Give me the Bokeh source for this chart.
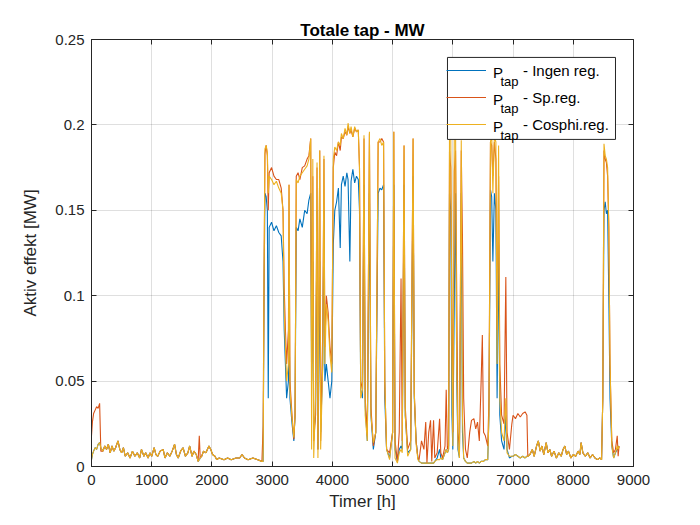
from bokeh.plotting import figure
from bokeh.models import (Range1d, FixedTicker, LinearAxis, Legend, LegendItem,
                          Label, CustomJSTickFormatter, BoxAnnotation)
from bokeh.embed import file_html
from bokeh.resources import INLINE

# ---------------- data ----------------
hours = [
    # quiet period
    0, 15, 35, 60, 85, 110, 135, 155, 190, 220,
    250, 280, 310, 340, 370, 400, 440, 470, 500, 530,
    560, 600, 640, 680, 720, 760, 800, 830, 870, 900,
    940, 970, 1000, 1040, 1070, 1100, 1140, 1190, 1220, 1260,
    1300, 1340, 1380, 1410, 1440, 1480, 1520, 1560, 1600, 1630,
    1670, 1700, 1740, 1770, 1790, 1805, 1830, 1860, 1900, 1950,
    1980, 2010, 2050, 2080, 2120, 2200, 2260, 2320, 2400, 2460,
    2500, 2540, 2600, 2680, 2760, 2830, 2850,
    # active period
    2865, 2880, 2900, 2920, 2935, 2950, 2990, 3030, 3070, 3110,
    3150, 3180, 3200, 3220, 3240, 3270, 3280, 3295, 3330, 3360,
    3380, 3400, 3430, 3460, 3500, 3540, 3580, 3610, 3640, 3655,
    3675, 3690, 3720, 3745, 3760, 3790, 3805, 3840, 3860, 3875,
    3900, 3930, 3960, 3990, 4015, 4040, 4070, 4100, 4130, 4150,
    4180, 4210, 4240, 4260, 4290, 4310, 4340, 4370, 4400, 4430,
    4450, 4470, 4500, 4525, 4545, 4580, 4615, 4640, 4680, 4720,
    4760, 4790, 4820, 4850, 4870, 4900, 4950, 5000, 5020, 5040,
    5080, 5110, 5140, 5160, 5190, 5210, 5250, 5300, 5340, 5360,
    5390, 5420,
    # low period
    5440, 5480, 5520, 5550, 5570, 5600, 5630, 5650, 5680, 5700,
    5740, 5780, 5800, 5830, 5870, 5890, 5910,
    # second active period
    5930, 5945, 5965, 5985, 6000, 6025, 6045, 6065, 6085, 6110,
    6140, 6160, 6180, 6210, 6240, 6280, 6310, 6350, 6380, 6410,
    6440, 6470, 6490, 6510, 6540, 6580,
    6600, 6625, 6645, 6665, 6690, 6715, 6735, 6760, 6780, 6810,
    6850, 6880, 6900, 6940, 6980, 7000, 7040, 7080, 7120, 7160,
    7200, 7230, 7245,
    # quiet period
    7280, 7320, 7350, 7390, 7420, 7450, 7480, 7510, 7550, 7580,
    7610, 7640, 7680, 7720, 7760, 7800, 7830, 7860, 7890, 7920,
    7960, 8000, 8040, 8080, 8110, 8130, 8160, 8200, 8240, 8280,
    8320, 8360, 8400, 8440, 8470,
    # last peak
    8490, 8510, 8530, 8550, 8570, 8590, 8610, 8640, 8670, 8700,
    8730, 8745, 8760,
]

p_ingen = [
    .004, .007, .009, .011, .010, .013, .014, .011, .009, .012,
    .010, .013, .008, .012, .009, .011, .015, .010, .008, .011,
    .006, .008, .005, .009, .006, .008, .005, .010, .006, .008,
    .005, .008, .006, .011, .007, .006, .009, .010, .005, .008,
    .006, .009, .013, .007, .005, .009, .011, .006, .008, .012,
    .006, .009, .007, .003, .004, .005, .006, .009, .008, .012,
    .010, .007, .006, .004, .005, .004, .005, .004, .005, .005,
    .007, .005, .004, .005, .004, .003, .003,
    .100, .160, .158, .150, .040, .140, .143, .138, .141, .137,
    .135, .120, .080, .060, .040, .050, .090, .040, .025, .015,
    .030, .140, .138, .145, .140, .150, .148, .156, .160, .050,
    .120, .020, .030, .150, .010, .120, .020, .060, .150, .050,
    .060, .050, .040, .050, .130, .150, .155, .163, .128, .165,
    .170, .164, .172, .168, .120, .167, .174, .166, .170, .168,
    .150, .045, .040, .165, .035, .015, .160, .030, .010, .020,
    .160, .163, .162, .165, .040, .010, .005, .020, .165, .010,
    .003, .010, .012, .010, .165, .030, .008, .010, .170, .040,
    .015, .005,
    .003, .002, .002, .002, .002, .002, .002, .002, .002, .003,
    .005, .010, .005, .004, .008, .010, .008,
    .010, .160, .150, .030, .010, .100, .160, .050, .010, .005,
    .160, .020, .005, .003, .002, .002, .002, .003, .002, .003,
    .002, .003, .003, .003, .004, .004,
    .030, .162, .158, .120, .160, .150, .040, .130, .030, .015,
    .010, .030, .010, .005, .006, .006, .007, .006, .005, .006,
    .005, .006, .006,
    .007, .010, .006, .012, .015, .009, .012, .007, .014, .008,
    .010, .006, .009, .005, .008, .006, .010, .012, .007, .009,
    .005, .007, .006, .009, .007, .014, .008, .006, .008, .005,
    .007, .005, .004, .005, .004,
    .040, .150, .155, .148, .150, .100, .040, .012, .005, .008,
    .010, .012, .011,
]

p_sp = [
    .018, .026, .031, .033, .035, .034, .037, .009, .009, .012,
    .010, .013, .008, .012, .009, .011, .015, .010, .008, .011,
    .006, .008, .005, .009, .006, .008, .005, .010, .006, .008,
    .005, .008, .006, .011, .007, .006, .009, .010, .005, .008,
    .006, .009, .013, .007, .005, .009, .011, .006, .008, .012,
    .006, .009, .007, .003, .018, .005, .006, .009, .008, .012,
    .010, .007, .006, .004, .005, .004, .005, .004, .005, .005,
    .007, .005, .004, .005, .004, .003, .024,
    .110, .183, .188, .182, .150, .172, .175, .170, .168, .168,
    .163, .150, .105, .080, .060, .080, .165, .050, .030, .016,
    .030, .170, .172, .168, .175, .176, .180, .182, .192, .060,
    .170, .015, .030, .175, .010, .185, .015, .080, .180, .070,
    .100, .090, .070, .060, .175, .184, .182, .190, .185, .193,
    .192, .196, .194, .199, .195, .197, .193, .198, .196, .197,
    .175, .050, .045, .192, .040, .018, .195, .035, .012, .020,
    .190, .190, .192, .190, .050, .010, .008, .020, .196, .015,
    .003, .020, .110, .015, .188, .035, .010, .015, .192, .043,
    .015, .005,
    .004, .015, .010, .026, .002, .020, .027, .003, .027, .005,
    .008, .028, .008, .005, .012, .045, .010,
    .012, .185, .175, .090, .020, .173, .185, .100, .020, .010,
    .185, .134, .040, .010, .005, .020, .027, .028, .022, .026,
    .015, .050, .077, .020, .018, .012,
    .040, .190, .188, .170, .190, .180, .080, .170, .060, .030,
    .025, .111, .020, .010, .025, .030, .028, .031, .029, .031,
    .032, .030, .006,
    .007, .010, .006, .012, .015, .009, .012, .007, .014, .008,
    .010, .006, .009, .005, .008, .006, .010, .012, .007, .009,
    .005, .007, .006, .009, .007, .014, .008, .006, .008, .005,
    .007, .005, .004, .005, .004,
    .040, .185, .180, .178, .170, .140, .060, .015, .008, .010,
    .018, .006, .012,
]

p_cosphi = [
    .004, .007, .009, .011, .010, .013, .014, .011, .009, .012,
    .010, .013, .008, .012, .009, .011, .015, .010, .008, .011,
    .006, .008, .005, .009, .006, .008, .005, .010, .006, .008,
    .005, .008, .006, .011, .007, .006, .009, .010, .005, .008,
    .006, .009, .013, .007, .005, .009, .011, .006, .008, .012,
    .006, .009, .007, .003, .004, .005, .006, .009, .008, .012,
    .010, .007, .006, .004, .005, .004, .005, .004, .005, .005,
    .007, .005, .004, .005, .004, .003, .003,
    .110, .186, .188, .184, .160, .170, .168, .165, .167, .163,
    .160, .150, .090, .070, .050, .060, .165, .045, .028, .017,
    .030, .168, .166, .170, .172, .174, .176, .180, .192, .010,
    .180, .005, .040, .178, .005, .185, .010, .060, .182, .060,
    .095, .085, .065, .055, .180, .187, .185, .190, .188, .195,
    .192, .198, .194, .201, .195, .199, .193, .199, .196, .197,
    .175, .040, .045, .194, .030, .015, .196, .030, .014, .020,
    .190, .192, .188, .190, .050, .010, .004, .020, .196, .005,
    .002, .008, .010, .008, .188, .030, .006, .010, .192, .043,
    .013, .004,
    .003, .002, .002, .002, .002, .002, .002, .002, .002, .003,
    .004, .004, .005, .004, .008, .010, .008,
    .010, .200, .198, .060, .012, .200, .200, .060, .012, .005,
    .191, .030, .005, .003, .002, .002, .002, .003, .002, .003,
    .002, .003, .003, .003, .004, .004,
    .030, .190, .195, .160, .193, .190, .060, .188, .040, .020,
    .015, .040, .008, .006, .006, .006, .007, .006, .005, .006,
    .005, .006, .006,
    .007, .010, .006, .012, .015, .009, .012, .007, .014, .008,
    .010, .006, .009, .005, .008, .006, .010, .012, .007, .009,
    .005, .007, .006, .009, .007, .014, .008, .006, .008, .005,
    .007, .005, .004, .005, .004,
    .040, .189, .182, .180, .175, .140, .060, .012, .005, .008,
    .012, .010, .012,
]

x_ticks = [0, 1000, 2000, 3000, 4000, 5000, 6000, 7000, 8000, 9000]
y_ticks = [0, 0.05, 0.1, 0.15, 0.2, 0.25]
y_tick_labels = ["0", "0.05", "0.1", "0.15", "0.2", "0.25"]
series_main = ["P", "P", "P"]
series_sub = ["tap", "tap", "tap"]
series_rest = ["- Ingen reg.", "- Sp.reg.", "- Cosphi.reg."]
colors = ["#0072BD", "#D95319", "#EDB120"]

assert len(hours) == len(p_ingen) == len(p_sp) == len(p_cosphi), (
    len(hours), len(p_ingen), len(p_sp), len(p_cosphi))

FONT = "Liberation Sans"
AX = "#262626"

p = figure(width=692, height=517, output_backend="svg", toolbar_location=None,
           x_range=Range1d(0, 9000), y_range=Range1d(0, 0.25),
           min_border_left=91, min_border_right=59, min_border_top=39,
           min_border_bottom=51, title="Totale tap - MW",
           background_fill_color="white", border_fill_color="white")
p.title.align = "center"
p.title.text_font = FONT
p.title.text_font_size = "17px"
p.title.text_font_style = "bold"
p.title.text_color = "black"
p.title.standoff = 0

p.outline_line_color = AX
p.outline_line_width = 1
p.outline_line_alpha = 1

for ax in (p.xaxis[0], p.yaxis[0]):
    ax.axis_line_color = AX
    ax.major_tick_line_color = AX
    ax.major_tick_in = 5
    ax.major_tick_out = 0
    ax.minor_tick_line_color = None
    ax.major_label_text_font = FONT
    ax.major_label_text_font_size = "15px"
    ax.major_label_text_color = AX
    ax.axis_label_text_font = FONT
    ax.axis_label_text_font_size = "17px"
    ax.axis_label_text_font_style = "normal"
    ax.axis_label_text_color = AX

p.xaxis.ticker = FixedTicker(ticks=x_ticks)
p.yaxis.ticker = FixedTicker(ticks=y_ticks)
p.yaxis.major_label_overrides = dict(zip(y_ticks, y_tick_labels))
p.xaxis.axis_label = "Timer [h]"
p.yaxis.axis_label = "Aktiv effekt [MW]"
p.xaxis.major_label_standoff = 8
p.yaxis.major_label_standoff = 7
p.xaxis.axis_label_standoff = 4
p.yaxis.axis_label_standoff = 12

blank = CustomJSTickFormatter(code="return ''")
top = LinearAxis(ticker=FixedTicker(ticks=x_ticks), formatter=blank,
                 axis_line_color=None, major_tick_line_color=AX,
                 major_tick_in=5, major_tick_out=0, minor_tick_line_color=None,
                 major_label_standoff=0)
right = LinearAxis(ticker=FixedTicker(ticks=y_ticks), formatter=blank,
                   axis_line_color=None, major_tick_line_color=AX,
                   major_tick_in=5, major_tick_out=0, minor_tick_line_color=None,
                   major_label_standoff=0)
p.add_layout(top, "above")
p.add_layout(right, "right")

p.grid.grid_line_color = AX
p.grid.grid_line_alpha = 0.15
p.xgrid.ticker = FixedTicker(ticks=x_ticks)
p.ygrid.ticker = FixedTicker(ticks=y_ticks)

renderers = []
for ys, c in zip((p_ingen, p_sp, p_cosphi), colors):
    r = p.line(hours, ys, line_color=c, line_width=1.1)
    renderers.append(r)

# legend frame: opaque white box with a dark border, drawn below the legend texts
legend_box = BoxAnnotation(left=5911, right=8701, top=0.2395, bottom=0.1915,
                           fill_color="white", fill_alpha=1,
                           line_color=AX, line_width=1, line_alpha=1,
                           level="annotation")
p.add_layout(legend_box)

legend = Legend(items=[LegendItem(label=t, renderers=[r])
                       for t, r in zip(series_rest, renderers)],
                location=(355, 330), padding=2, spacing=3, margin=0,
                glyph_width=40, glyph_height=24, label_height=24,
                label_width=88, label_standoff=37,
                label_text_font=FONT, label_text_font_size="15px",
                label_text_color="black", border_line_color=None,
                background_fill_alpha=0, level="overlay")
p.add_layout(legend)

# "P" with subscript "tap" inside the legend
for i in range(3):
    p.add_layout(Label(x=6667, y=0.2305 - i * 0.0158, text=series_main[i],
                       text_font=FONT, text_font_size="15px", text_color="black",
                       text_baseline="alphabetic", text_align="left",
                       level="overlay"))
    p.add_layout(Label(x=6790, y=0.2252 - i * 0.0158, text=series_sub[i],
                       text_font=FONT, text_font_size="13px", text_color="black",
                       text_baseline="alphabetic", text_align="left",
                       level="overlay"))

open("out.html", "w").write(file_html(p, INLINE))
